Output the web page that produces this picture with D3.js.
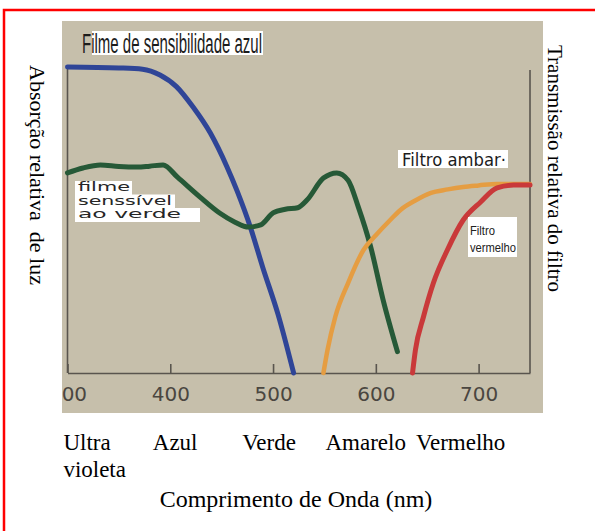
<!DOCTYPE html>
<html>
<head>
<meta charset="utf-8">
<script src="https://cdn.jsdelivr.net/npm/d3@7"></script>
<style>
  body { margin: 0; background: #fff; }
  svg { display: block; }
</style>
</head>
<body>
<svg id="chart" width="595" height="531"></svg>
<script>
// absorption of the two films (left axis) and transmission of the filters (right axis)
const blueNm = [300, 350, 373, 390, 406, 422, 439, 455, 465, 478, 490, 505, 520]
const blueAbs = [100, 99.7, 99.3, 97.4, 93.6, 87, 78.4, 67.5, 59.5, 47.6, 34.5, 19, 0]

const greenNm = [300, 315, 332, 350, 368, 380, 393, 407, 429, 448, 463, 476, 488, 500, 512, 524, 533, 549, 562, 573, 583, 595, 607, 621]
const greenAbs = [65.4, 67, 68, 67.5, 67.3, 67.6, 68, 64, 57.5, 52.3, 49.3, 47.7, 48.4, 52.3, 53.5, 54, 56.5, 63.7, 65.4, 63, 54.2, 41.2, 24, 7]

const amberNm = [549, 553, 560.5, 573, 588, 600, 614, 624, 638, 653, 670, 685, 700, 718, 735, 750]
const amberTrans = [0, 7.5, 18.3, 29.4, 40.2, 45, 50, 53.3, 56.3, 58.8, 60, 60.8, 61.3, 61.8, 61.8, 61.8]

const redNm = [635.7, 638.5, 646.3, 656, 669.6, 685, 702, 718, 734, 750]
const redTrans = [0, 7.5, 18.3, 29.4, 40.2, 50, 55.9, 60.5, 61.4, 61.4]

const tickNm = [300, 400, 500, 600, 700]
const bandNames = [['Ultra', 'violeta'], ['Azul'], ['Verde'], ['Amarelo'], ['Vermelho']]
const bandStartNm = [296, 383, 470, 551, 639]

const svg = d3.select('#chart')

// red frame
svg.append('rect')
    .attr('x', 4).attr('y', 10)
    .attr('width', 700).attr('height', 600)
    .attr('fill', 'none')
    .attr('stroke', '#ff0000')
    .attr('stroke-width', 2.5)

const x = d3.scaleLinear().domain([300, 750]).range([67.5, 530])
const y = d3.scaleLinear().domain([0, 100]).range([373, 67])

// the scanned picture area
svg.append('clipPath').attr('id', 'plate')
    .append('rect').attr('x', 62).attr('y', 21).attr('width', 481).attr('height', 392)

const plate = svg.append('g').attr('clip-path', 'url(#plate)')

plate.append('rect')
    .attr('x', 62).attr('y', 21).attr('width', 481).attr('height', 392)
    .attr('fill', '#c6bfab')

const axisColor = '#59554e'

const xAxis = d3.axisBottom(x)
    .tickValues(tickNm)
    .tickSizeInner(-9)
    .tickSizeOuter(0)
    .tickPadding(14)

const gx = plate.append('g')
    .attr('transform', `translate(0,${y(0)})`)
    .call(xAxis)
gx.select('.domain').attr('stroke', axisColor).attr('stroke-width', 1.6)
gx.selectAll('.tick line').attr('stroke', axisColor).attr('stroke-width', 1.6)
gx.selectAll('.tick text')
    .attr('fill', '#4a4640')
    .style('font-family', '"DejaVu Sans", sans-serif')
    .style('font-size', '20px')

// left and right vertical axes
plate.append('line')
    .attr('x1', x(300)).attr('x2', x(300))
    .attr('y1', y(0)).attr('y2', y(100))
    .attr('stroke', axisColor).attr('stroke-width', 1.6)
plate.append('line')
    .attr('x1', x(750)).attr('x2', x(750))
    .attr('y1', y(0)).attr('y2', y(99))
    .attr('stroke', axisColor).attr('stroke-width', 1.6)

const line = d3.line()
    .x(d => x(d[0]))
    .y(d => y(d[1]))
    .curve(d3.curveMonotoneX)

const series = [
    { nm: blueNm, v: blueAbs, color: '#2f4597', width: 5 },
    { nm: greenNm, v: greenAbs, color: '#265937', width: 5 },
    { nm: amberNm, v: amberTrans, color: '#e59d42', width: 4.5 },
    { nm: redNm, v: redTrans, color: '#c9393a', width: 5 }
]

series.forEach(s => {
    plate.append('path')
        .datum(d3.zip(s.nm, s.v))
        .attr('d', line)
        .attr('fill', 'none')
        .attr('stroke', s.color)
        .attr('stroke-width', s.width)
        .attr('stroke-linecap', 'round')
        .attr('stroke-linejoin', 'round')
})

// pasted-on labels
plate.append('rect').attr('x', 92).attr('y', 31).attr('width', 171).attr('height', 24).attr('fill', '#fff')
plate.append('text')
    .attr('x', 82).attr('y', 53)
    .attr('textLength', 180).attr('lengthAdjust', 'spacingAndGlyphs')
    .style('font-family', '"Liberation Sans Narrow", "Liberation Sans", sans-serif')
    .style('font-size', '27px')
    .attr('fill', '#1c1c1c')
    .text('Filme de sensibilidade azul')

const greenLabel = [['filme', 52, 132], ['senssível', 94, 175], ['ao verde', 103, 200]]
greenLabel.forEach((r, i) => {
    plate.append('rect').attr('x', 75).attr('y', 181 + i * 13.5).attr('width', r[2] - 75).attr('height', 14).attr('fill', '#fff')
})
greenLabel.forEach((r, i) => {
    plate.append('text')
        .attr('x', 78).attr('y', 191 + i * 13.5)
        .attr('textLength', r[1]).attr('lengthAdjust', 'spacingAndGlyphs')
        .style('font-family', '"DejaVu Sans", sans-serif')
        .style('font-size', '12.5px')
        .attr('fill', '#262626')
        .text(r[0])
})

plate.append('rect').attr('x', 398).attr('y', 150).attr('width', 110).attr('height', 18).attr('fill', '#fff')
plate.append('text')
    .attr('x', 402).attr('y', 166)
    .attr('textLength', 104).attr('lengthAdjust', 'spacingAndGlyphs')
    .style('font-family', '"DejaVu Sans", sans-serif')
    .style('font-size', '17px')
    .attr('fill', '#1c1c1c')
    .text('Filtro ambar·')

plate.append('rect').attr('x', 468).attr('y', 217).attr('width', 49).attr('height', 40).attr('fill', '#fff')
plate.append('text')
    .attr('x', 470).attr('y', 235)
    .attr('textLength', 25).attr('lengthAdjust', 'spacingAndGlyphs')
    .style('font-family', '"Liberation Sans Narrow", "Liberation Sans", sans-serif')
    .style('font-size', '13px')
    .attr('fill', '#222')
    .text('Filtro')
plate.append('text')
    .attr('x', 470).attr('y', 252)
    .attr('textLength', 46).attr('lengthAdjust', 'spacingAndGlyphs')
    .style('font-family', '"Liberation Sans Narrow", "Liberation Sans", sans-serif')
    .style('font-size', '13px')
    .attr('fill', '#222')
    .text('vermelho')

// outer titles
const serif = '"Liberation Serif", "Times New Roman", serif'

svg.append('text')
    .attr('transform', 'translate(30,65) rotate(90)')
    .style('font-family', serif)
    .style('font-size', '22px')
    .style('white-space', 'pre')
    .text('Absorção relativa  de luz')

svg.append('text')
    .attr('transform', 'translate(548,45) rotate(90)')
    .style('font-family', serif)
    .style('font-size', '21px')
    .text('Transmissão relativa do filtro')

bandNames.forEach((lines, i) => {
    const t = svg.append('text')
        .attr('x', x(bandStartNm[i]))
        .attr('y', 450)
        .style('font-family', serif)
        .style('font-size', '23px')
    lines.forEach((l, j) => {
        t.append('tspan').attr('x', x(bandStartNm[i])).attr('dy', j === 0 ? 0 : 27).text(l)
    })
})

svg.append('text')
    .attr('x', 296).attr('y', 507)
    .attr('text-anchor', 'middle')
    .style('font-family', serif)
    .style('font-size', '24px')
    .text('Comprimento de Onda (nm)')
</script>
</body>
</html>
